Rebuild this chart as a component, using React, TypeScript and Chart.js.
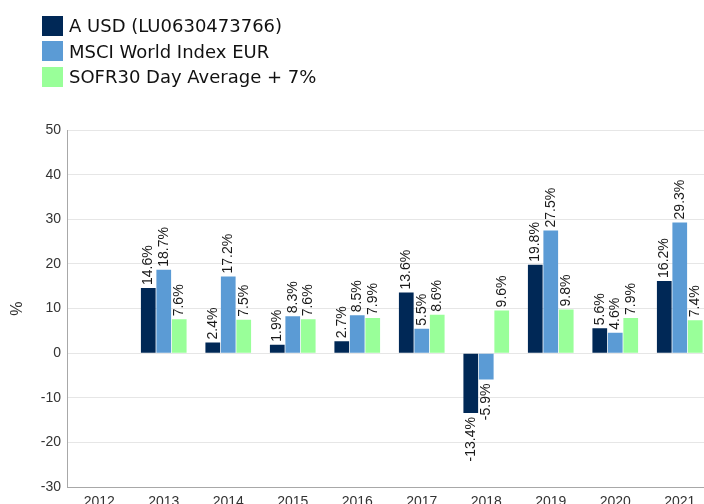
import React, { useEffect, useRef } from "react";
import { Chart, registerables } from "chart.js";

Chart.register(...registerables);

const categories = ["2012", "2013", "2014", "2015", "2016", "2017", "2018", "2019", "2020", "2021"];
const fundValues = [null, 14.6, 2.4, 1.9, 2.7, 13.6, -13.4, 19.8, 5.6, 16.2];
const msciValues = [null, 18.7, 17.2, 8.3, 8.5, 5.5, -5.9, 27.5, 4.6, 29.3];
const sofrValues = [null, 7.6, 7.5, 7.6, 7.9, 8.6, 9.6, 9.8, 7.9, 7.4];
const seriesNames = ["A USD (LU0630473766)", "MSCI World Index EUR", "SOFR30 Day Average + 7%"];
const seriesColors = ["#002856", "#5b9bd5", "#99ff99"];
const yMin = -30;
const yMax = 50;
const yStep = 10;
const yTitle = "%";

const FONT = "'Liberation Sans', Arial, sans-serif";

const labelPlugin = {
  id: "barLabels",
  afterDatasetsDraw(chart: any) {
    const ctx = chart.ctx;
    ctx.save();
    ctx.font = "14px " + FONT;
    ctx.fillStyle = "#1a1a1a";
    chart.data.datasets.forEach((ds: any, i: number) => {
      const meta = chart.getDatasetMeta(i);
      meta.data.forEach((bar: any, j: number) => {
        const v = ds.data[j];
        if (v == null) return;
        const { x, y } = bar.getProps(["x", "y"], true);
        const text = v.toFixed(1) + "%";
        ctx.save();
        ctx.translate(x, y);
        ctx.rotate(-Math.PI / 2);
        ctx.textBaseline = "middle";
        if (v >= 0) {
          ctx.textAlign = "left";
          ctx.fillText(text, 3, 0);
        } else {
          ctx.textAlign = "right";
          ctx.fillText(text, -4, 0);
        }
        ctx.restore();
      });
    });
    ctx.restore();
  },
};

export default function App() {
  const ref = useRef<HTMLCanvasElement | null>(null);

  useEffect(() => {
    if (!ref.current) return;
    const values = [fundValues, msciValues, sofrValues];
    const chart = new Chart(ref.current, {
      type: "bar",
      data: {
        labels: categories,
        datasets: values.map((d, i) => ({
          label: seriesNames[i],
          data: d as any,
          backgroundColor: seriesColors[i],
          borderWidth: 0,
          categoryPercentage: 0.72,
          barPercentage: 0.95,
        })),
      },
      options: {
        responsive: false,
        animation: false,
        layout: { padding: { top: 130, bottom: 2, left: 0, right: 0 } },
        plugins: {
          legend: { display: false },
          tooltip: { enabled: false },
        },
        scales: {
          x: {
            grid: { display: false, drawTicks: false },
            border: { display: true, color: "#a8a8a8", width: 1 },
            ticks: {
              color: "#333",
              padding: 7,
              font: { family: FONT, size: 14 },
            },
          },
          y: {
            min: yMin,
            max: yMax,
            afterFit: (scale: any) => {
              scale.width = 67;
            },
            ticks: {
              stepSize: yStep,
              color: "#333",
              padding: 6,
              font: { family: FONT, size: 14 },
            },
            grid: { color: "#e6e6e6", drawTicks: false },
            border: { display: true, color: "#a8a8a8", width: 1 },
            title: {
              display: true,
              text: yTitle,
              color: "#333",
              padding: 8,
              font: { family: FONT, size: 16 },
            },
          },
        },
      },
      plugins: [labelPlugin],
    });
    return () => chart.destroy();
  }, []);

  return (
    <div
      style={{
        position: "fixed",
        left: 0,
        top: 0,
        width: 704,
        height: 504,
        overflow: "hidden",
        background: "#fff",
      }}
    >
      <canvas ref={ref} width={712} height={520} style={{ position: "absolute", left: 0, top: 0 }} />
      <div
        style={{
          position: "absolute",
          left: 42,
          top: 13,
          fontFamily: "'DejaVu Sans', Verdana, sans-serif",
          fontSize: 18,
          color: "#111",
        }}
      >
        {seriesNames.map((n, i) => (
          <div key={n} style={{ display: "flex", alignItems: "center", height: 25.5 }}>
            <span
              style={{
                display: "inline-block",
                width: 21,
                height: 20,
                background: seriesColors[i],
                marginRight: 6,
              }}
            />
            <span>{n}</span>
          </div>
        ))}
      </div>
    </div>
  );
}
